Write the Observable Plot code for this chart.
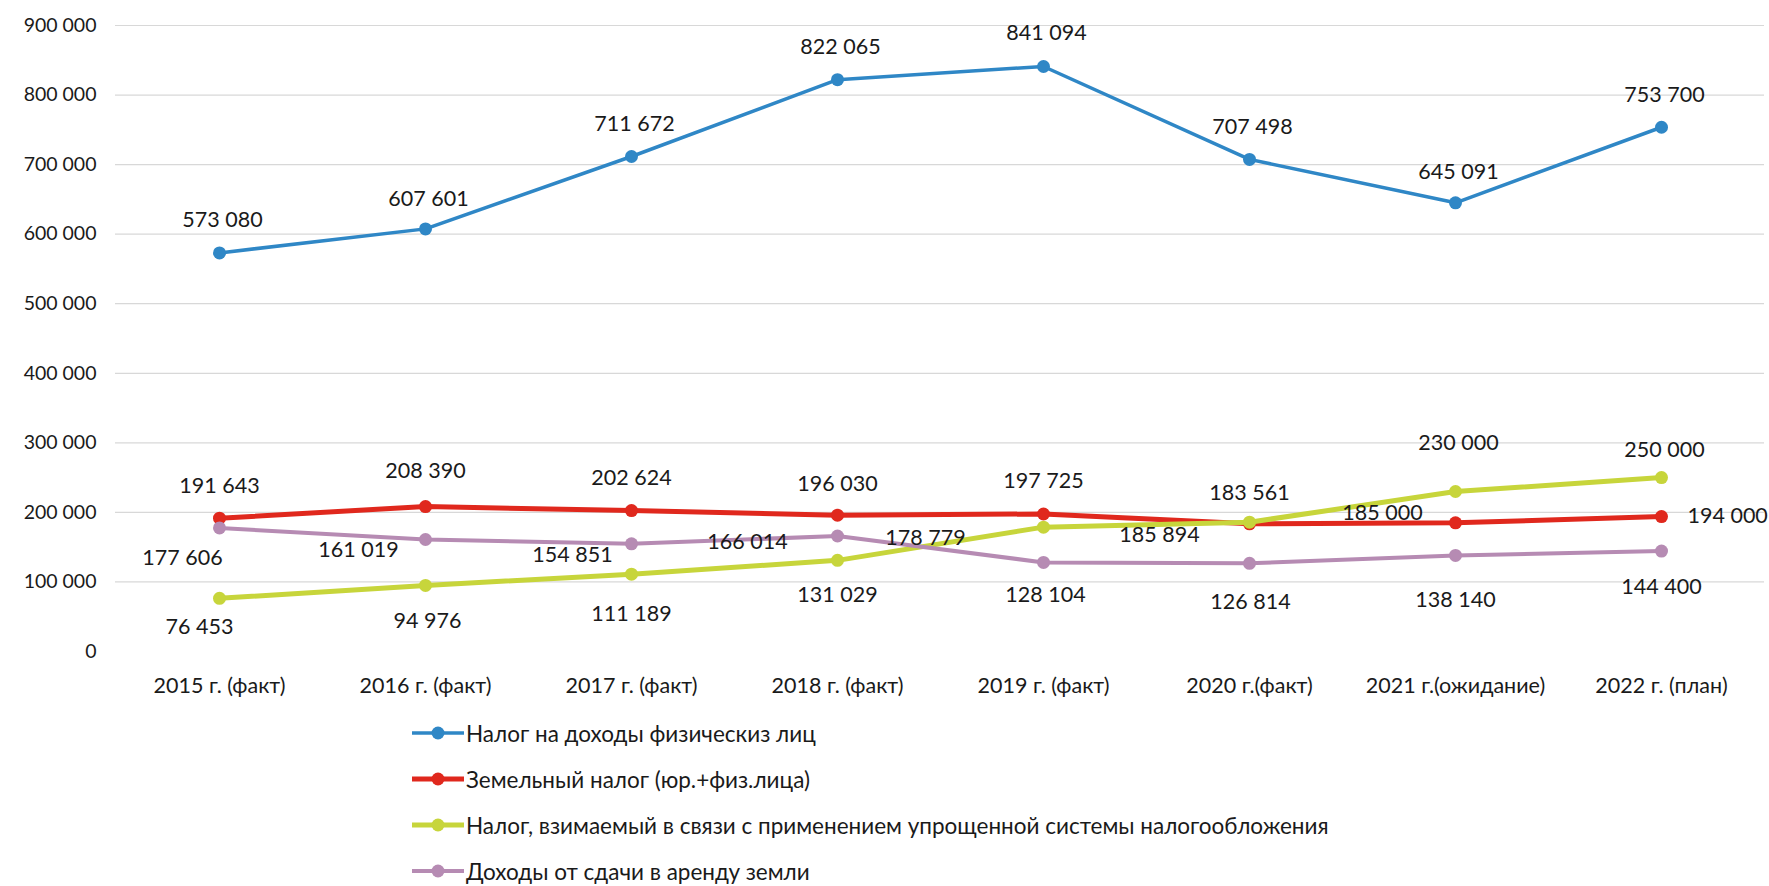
<!DOCTYPE html>
<html>
<head>
<meta charset="utf-8">
<script src="https://cdn.jsdelivr.net/npm/d3@7"></script>
<script src="https://cdn.jsdelivr.net/npm/@observablehq/plot@0.6"></script>
<style>
  body { margin: 0; background: #fff; font-family: Lato, "Open Sans", sans-serif; }
  #chart svg { display: block; }
  #legend { margin-left: 412px; }
  .item { height: 46px; display: flex; align-items: center; font-size: 22.5px; color: #1a1a1a; }
  .item svg { margin-right: 2px; }
</style>
</head>
<body>
<div id="chart"></div>
<div id="legend"></div>
<script>
const categories = ["2015 г. (факт)", "2016 г. (факт)", "2017 г. (факт)", "2018 г. (факт)", "2019 г. (факт)", "2020 г.(факт)", "2021 г.(ожидание)", "2022 г. (план)"];
const seriesNames = [
  "Налог на доходы физическиз лиц",
  "Земельный налог (юр.+физ.лица)",
  "Налог, взимаемый в связи с применением упрощенной системы налогообложения",
  "Доходы от сдачи в аренду земли"
];
const ndfl = [573080, 607601, 711672, 822065, 841094, 707498, 645091, 753700];
const land = [191643, 208390, 202624, 196030, 197725, 183561, 185000, 194000];
const usn  = [76453, 94976, 111189, 131029, 178779, 185894, 230000, 250000];
const rent = [177606, 161019, 154851, 166014, 128104, 126814, 138140, 144400];
const yTicks = [0, 100000, 200000, 300000, 400000, 500000, 600000, 700000, 800000, 900000];

// styling (not data)
const colors = ["#2f87c6", "#e0281d", "#c7d53b", "#b68bb3"];
const widths = [3.5, 5, 5, 4];
// label offsets in px relative to each point
const labelDx = [
  [3, 3, 3, 3, 3, 3, 3, 3],
  [0, 0, 0, 0, 0, 0, -73, 26],
  [-20, 2, 0, 0, -118, -90, 3, 3],
  [-37, -67, -59, -90, 2, 1, 0, 0]
];
const labelDy = [
  [-33, -30, -32, -33, -33, -32, -31, -32],
  [-32, -35, -32, -31, -33, -31, -10, 0],
  [29, 36, 40, 35, 11, 13, -48, -28],
  [30, 11, 11, 6, 33, 39, 45, 36]
];
const labelAnchor = [
  Array(8).fill("middle"),
  ["middle", "middle", "middle", "middle", "middle", "middle", "middle", "start"],
  Array(8).fill("middle"),
  Array(8).fill("middle")
];

const seriesValues = [ndfl, land, usn, rent];
const rows = [];
seriesValues.forEach((vals, s) => vals.forEach((v, i) => rows.push({
  series: seriesNames[s], s, cat: categories[i], value: v,
  dx: labelDx[s][i], dy: labelDy[s][i], anchor: labelAnchor[s][i]
})));

const fmt = d3.formatLocale({thousands: " ", grouping: [3], decimal: ","}).format(",d");

const marks = [
  Plot.gridY(yTicks.filter(d => d > 0), {stroke: "#d8d8d8", strokeOpacity: 1, strokeWidth: 1.2}),
  Plot.axisY(yTicks, {tickSize: 0, tickPadding: 19, tickFormat: fmt, fontSize: 19.5, fill: "#1a1a1a"}),
  Plot.axisX({tickSize: 0, tickPadding: 26, fontSize: 21.5, fill: "#1a1a1a"})
];
seriesValues.forEach((vals, s) => {
  const data = rows.filter(r => r.s === s);
  marks.push(Plot.line(data, {x: "cat", y: "value", stroke: colors[s], strokeWidth: widths[s]}));
  marks.push(Plot.dot(data, {x: "cat", y: "value", fill: colors[s], r: 6.5}));
});
rows.forEach(r => {
  marks.push(Plot.text([r], {x: "cat", y: "value", text: d => fmt(d.value), dx: r.dx, dy: r.dy, textAnchor: r.anchor, fontSize: 21.5, fill: "#1a1a1a"}));
});

const chart = Plot.plot({
  width: 1769,
  height: 710,
  marginLeft: 115,
  marginRight: 5,
  marginTop: 25,
  marginBottom: 59,
  style: {fontFamily: "Lato, 'Open Sans', sans-serif", background: "#fff"},
  x: {type: "point", domain: categories, padding: 0.5, label: null},
  y: {domain: [0, 900000], label: null},
  marks
});
document.getElementById("chart").appendChild(chart);

const legend = document.getElementById("legend");
seriesNames.forEach((name, s) => {
  const div = document.createElement("div");
  div.className = "item";
  div.innerHTML = `<svg width="52" height="20"><line x1="0" y1="10" x2="52" y2="10" stroke="${colors[s]}" stroke-width="${widths[s]}"/><circle cx="26" cy="10" r="6.5" fill="${colors[s]}"/></svg><span>${name}</span>`;
  legend.appendChild(div);
});
</script>
</body>
</html>
